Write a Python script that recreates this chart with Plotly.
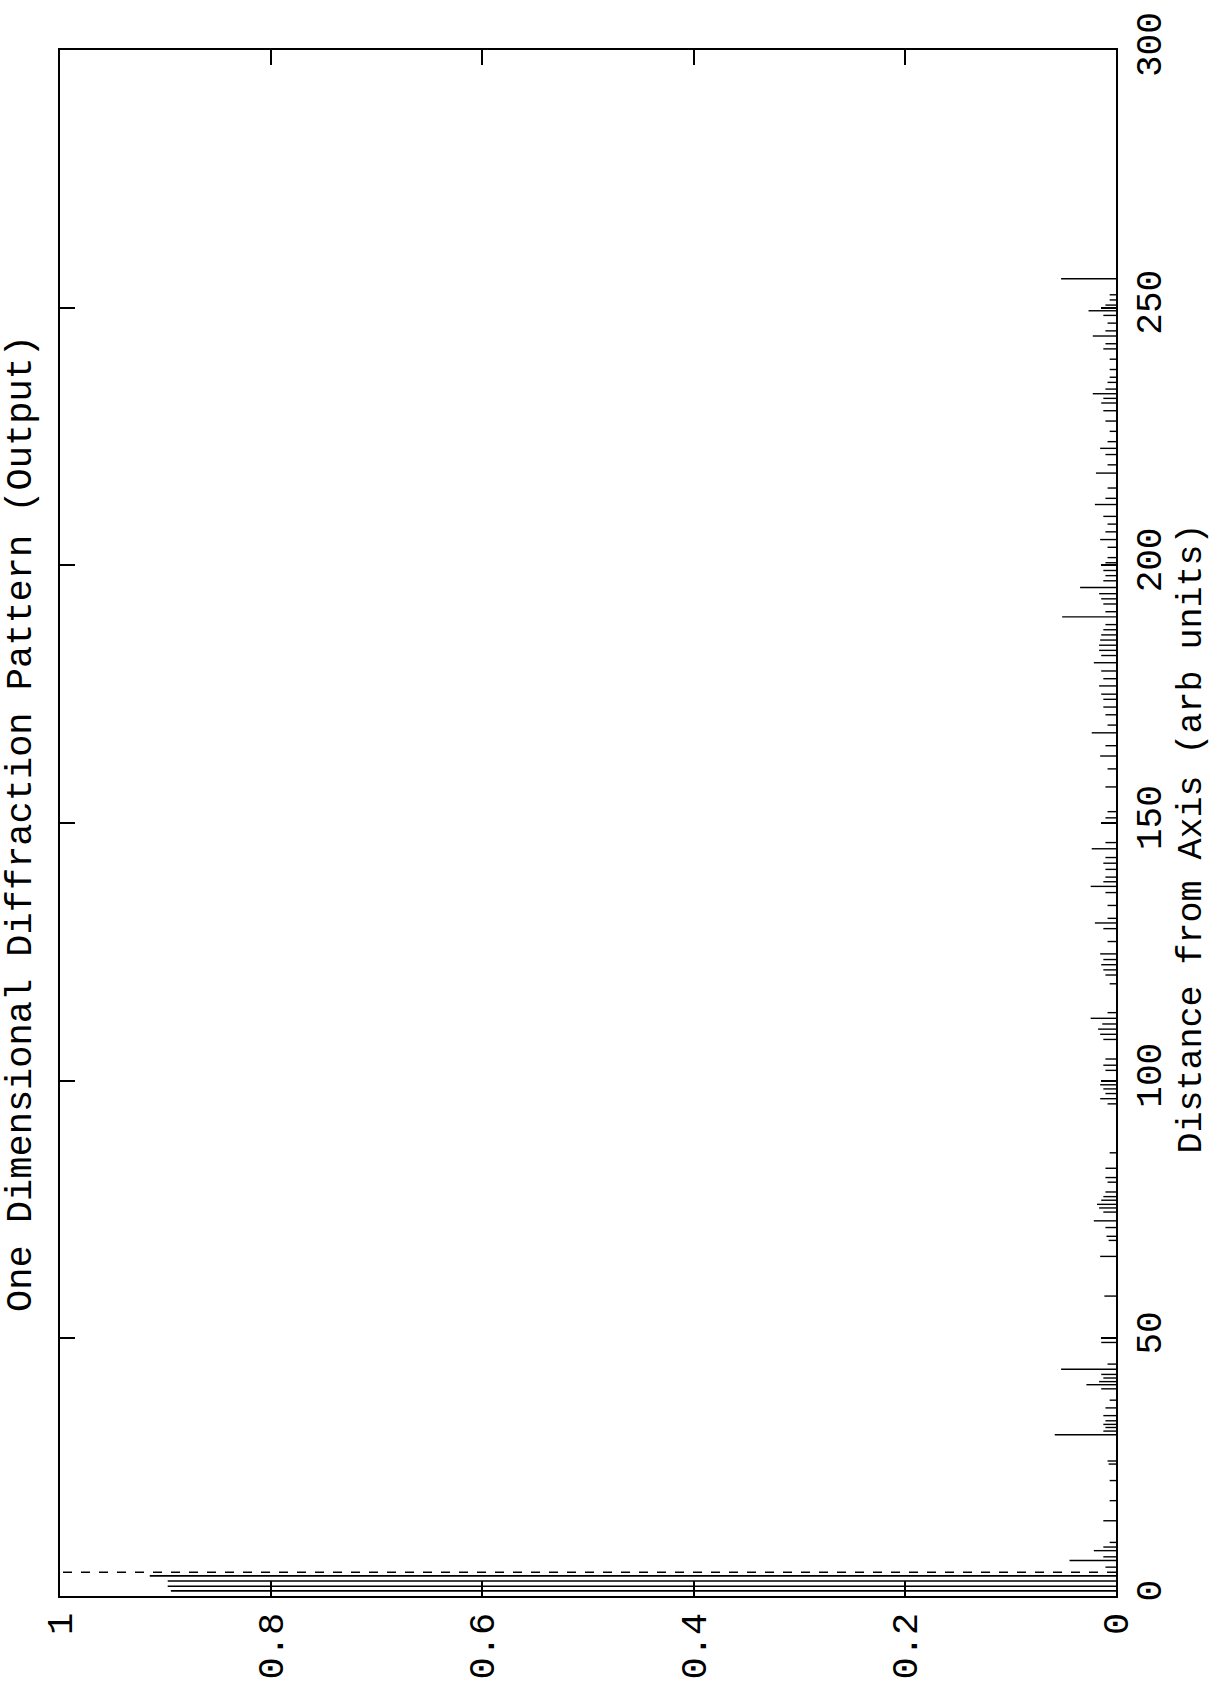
import plotly.graph_objects as go

# ---- data ----
# main central peaks: distance from axis, intensity
central_dist = [1.0, 1.9, 2.9, 3.9]
central_int = [0.895, 0.898, 0.898, 0.915]
# dashed reference stem
dashed_dist = [4.6]
dashed_int = [1.0]

# side-lobe stems: distance, intensity
side_dist = [
    5.6, 6.9, 7.6, 8.8, 9.5, 10.4, 14.6, 18.5, 22.4, 25.6, 26.2, 31.3, 32.0, 32.7, 33.3, 34.0, 35.0, 36.5, 38.0,
    40.2, 41.0, 41.6, 42.3, 43.0, 44.0, 45.0, 49.2, 58.2, 65.9, 69.0, 69.8, 71.5, 72.8, 74.5, 75.3, 76.0, 76.8,
    77.5, 78.4, 80.3, 81.2, 83.0, 86.0,
    95.5, 96.5, 97.5, 98.4, 99.2, 102.0, 103.0, 104.2, 108.0, 109.0, 110.0, 111.0, 112.1, 113.2, 118.8, 120.5,
    121.5, 122.5, 123.5, 124.6, 127.0, 129.5, 130.6, 131.5, 134.0, 136.5, 137.7, 138.6, 139.5, 141.0, 142.2, 143.3,
    145.0, 146.2, 150.0, 151.0, 152.2, 157.0, 160.5, 163.0, 165.0, 167.5, 169.0, 171.0, 172.5, 174.0, 175.0, 176.6,
    178.0, 179.5, 181.1, 182.5, 183.5, 184.5, 185.5, 186.5, 187.5, 188.5, 190.0, 191.0, 192.5, 193.5, 194.5, 195.7,
    197.0, 198.0, 199.0, 200.5, 201.5,
    203.5, 205.0, 206.5, 208.0, 209.5, 211.8, 213.0, 215.0, 217.9, 219.5, 221.5, 222.7, 224.0, 226.0, 228.0, 230.0,
    231.5, 232.4, 233.3, 234.2, 235.5, 236.5, 238.0, 240.0, 242.0, 243.0, 244.5, 245.5, 247.0, 248.5, 249.4, 250.5,
    251.5, 252.5, 255.6,
]
side_int = [
    0.010, 0.044, 0.012, 0.021, 0.012, 0.006, 0.012, 0.006, 0.006, 0.007, 0.008, 0.058, 0.012, 0.010, 0.012, 0.010, 0.012, 0.010, 0.006,
    0.014, 0.028, 0.016, 0.012, 0.014, 0.052, 0.008, 0.014, 0.011, 0.015, 0.007, 0.009, 0.010, 0.021, 0.012, 0.016, 0.018, 0.014,
    0.012, 0.010, 0.008, 0.010, 0.010, 0.006,
    0.008, 0.015, 0.010, 0.012, 0.015, 0.010, 0.012, 0.010, 0.012, 0.015, 0.017, 0.013, 0.024, 0.008, 0.006, 0.010,
    0.012, 0.014, 0.012, 0.015, 0.008, 0.012, 0.020, 0.008, 0.008, 0.010, 0.024, 0.012, 0.010, 0.010, 0.012, 0.010,
    0.023, 0.010, 0.008, 0.010, 0.008, 0.010, 0.008, 0.015, 0.010, 0.023, 0.008, 0.010, 0.012, 0.012, 0.014, 0.016,
    0.012, 0.014, 0.021, 0.014, 0.016, 0.016, 0.015, 0.014, 0.012, 0.010, 0.051, 0.010, 0.012, 0.014, 0.016, 0.034,
    0.012, 0.010, 0.012, 0.010, 0.008,
    0.008, 0.015, 0.010, 0.008, 0.012, 0.020, 0.010, 0.008, 0.019, 0.008, 0.010, 0.015, 0.008, 0.006, 0.010, 0.012,
    0.014, 0.012, 0.022, 0.010, 0.008, 0.006, 0.006, 0.006, 0.012, 0.010, 0.022, 0.010, 0.008, 0.012, 0.026, 0.010,
    0.006, 0.006, 0.052,
]

int_ticks = [0, 0.2, 0.4, 0.6, 0.8, 1]
int_labels = ["0", "0.2", "0.4", "0.6", "0.8", "1"]
dist_ticks = [0, 50, 100, 150, 200, 250, 300]
dist_labels = ["0", "50", "100", "150", "200", "250", "300"]

title_text = "One Dimensional Diffraction Pattern (Output)"
axis_text = "Distance from Axis (arb units)"


def stems(dists, ints):
    xs, ys = [], []
    for d, v in zip(dists, ints):
        xs += [0, v, None]
        ys += [d, d, None]
    return xs, ys


FONT = "Liberation Mono, Courier New, monospace"

fig = go.Figure()
sx, sy = stems(side_dist, side_int)
fig.add_trace(go.Scatter(x=sx, y=sy, mode="lines", line=dict(color="black", width=1.4),
                         hoverinfo="skip", showlegend=False))
cx, cy = stems(central_dist, central_int)
fig.add_trace(go.Scatter(x=cx, y=cy, mode="lines", line=dict(color="black", width=1.6),
                         hoverinfo="skip", showlegend=False))
dx, dy = stems(dashed_dist, dashed_int)
fig.add_trace(go.Scatter(x=dx, y=dy, mode="lines", line=dict(color="black", width=1.6, dash="dash"),
                         hoverinfo="skip", showlegend=False))

fig.update_layout(
    width=1213, height=1691,
    margin=dict(l=60, r=97, t=40, b=92),
    paper_bgcolor="white", plot_bgcolor="white",
    font=dict(family=FONT, size=36, color="black"),
    showlegend=False,
    xaxis=dict(
        range=[1, 0], tickvals=int_ticks, ticktext=int_labels, tickangle=-90,
        ticks="inside", ticklen=15, tickwidth=1.5, tickcolor="black",
        showline=True, linecolor="black", linewidth=2, mirror="ticks",
        showgrid=False, zeroline=False, tickfont=dict(family=FONT, size=37),
        ticklabeloverflow="allow",
    ),
    yaxis=dict(
        range=[0, 300], side="right", tickvals=dist_ticks, ticktext=dist_labels, tickangle=-90,
        ticks="inside", ticklen=15, tickwidth=1.5, tickcolor="black",
        showline=True, linecolor="black", linewidth=2, mirror="ticks",
        showgrid=False, zeroline=False, tickfont=dict(family=FONT, size=36),
        ticklabeloverflow="allow",
    ),
    annotations=[
        dict(text=title_text, textangle=-90, xref="paper", yref="paper",
             x=-0.037, y=0.5, xanchor="center", yanchor="middle", showarrow=False,
             font=dict(family=FONT, size=37)),
        dict(text=axis_text, textangle=-90, xref="paper", yref="paper",
             x=1.072, y=0.49, xanchor="center", yanchor="middle", showarrow=False,
             font=dict(family=FONT, size=35)),
    ],
)

fig.write_html("out.html")
